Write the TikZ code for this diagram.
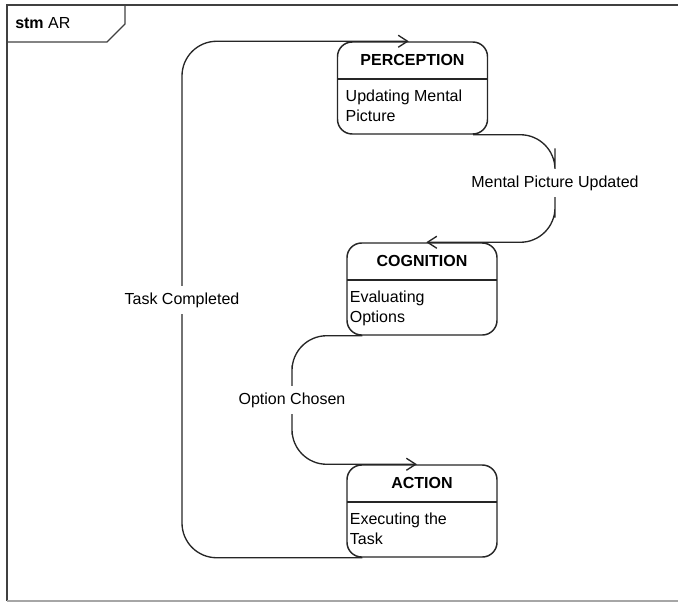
\documentclass[tikz,border=0pt]{standalone}
\usepackage{fontspec}
\setmainfont{Liberation Sans}
\usetikzlibrary{arrows.meta,positioning,calc}
\newcommand{\sfont}{\fontsize{12}{15}\selectfont}
\tikzset{
  state/.style={rectangle, rounded corners=11pt, draw=black!85, line width=1.1pt, fill=white,
                minimum width=112.5pt, minimum height=69pt, inner sep=0pt,
                path picture={\draw[black!85, line width=1.1pt]
                  ([yshift=-27.75pt]path picture bounding box.north west) --
                  ([yshift=-27.75pt]path picture bounding box.north east);}},
  stitle/.style={font=\sfont\bfseries, inner sep=0pt},
  sbody/.style={font=\sfont, align=left, anchor=north west, inner sep=0pt},
  trans/.style={draw=black!85, line width=1pt, rounded corners=26pt,
                -{Straight Barb[length=7pt, width=9pt, line width=1pt]}},
  lbl/.style={font=\sfont, fill=white, inner xsep=2pt, inner ysep=5pt},
  frm/.style={draw=black!75, line width=1pt},
}

\begin{document}
\begin{tikzpicture}[x=0.75pt, y=-0.75pt]
\useasboundingbox (0,0) rectangle (678,603);

% ===================== FRAME =====================
\draw[frm] (678,5) -- (7,5) -- (7,601);
\draw[draw=black!35, line width=1pt] (7,601) -- (678,601);
\draw[frm] (7,42) -- (107,42) -- (125,24) -- (125,5);
\node[font=\sfont, anchor=base west, inner sep=0pt] (frmT) at (15,28) {\textbf{stm} AR};

% ===================== STATES =====================
\node[state] (per) at (412.5,88) {};
\node[stitle] (perT) at ([yshift=-13.9pt]per.north) {PERCEPTION};
\node[sbody] (perB) at ([xshift=6.5pt,yshift=-36pt]per.north west) {Updating Mental\\Picture};

\node[state] (cog) at (422,289) {};
\node[stitle] (cogT) at ([yshift=-13.9pt]cog.north) {COGNITION};
\node[sbody] (cogB) at ([xshift=2.5pt,yshift=-36pt]cog.north west) {Evaluating\\Options};

\node[state] (act) at (422,511) {};
\node[stitle] (actT) at ([yshift=-13.9pt]act.north) {ACTION};
\node[sbody] (actB) at ([xshift=2.5pt,yshift=-36pt]act.north west) {Executing the\\Task};

% ===================== TRANSITIONS =====================
\coordinate (mpu) at (555,183);
\coordinate (oc) at (292,400);
\coordinate (tc) at (182,300);

\draw[trans] ([xshift=-11.25pt]per.south east) -| (mpu) |- ([xshift=60pt]cog.north west);
\draw[trans] ([xshift=12pt]cog.south west) -| (oc) |- ([xshift=53pt]act.north west);
\draw[trans] ([xshift=12pt]act.south west) -| (tc) |- ([xshift=54pt]per.north west);

\node[lbl] (mpuL) at (mpu) {Mental Picture Updated};
\node[lbl] (ocL) at (oc) {Option Chosen};
\node[lbl] (tcL) at (tc) {Task Completed};

\end{tikzpicture}
\end{document}
